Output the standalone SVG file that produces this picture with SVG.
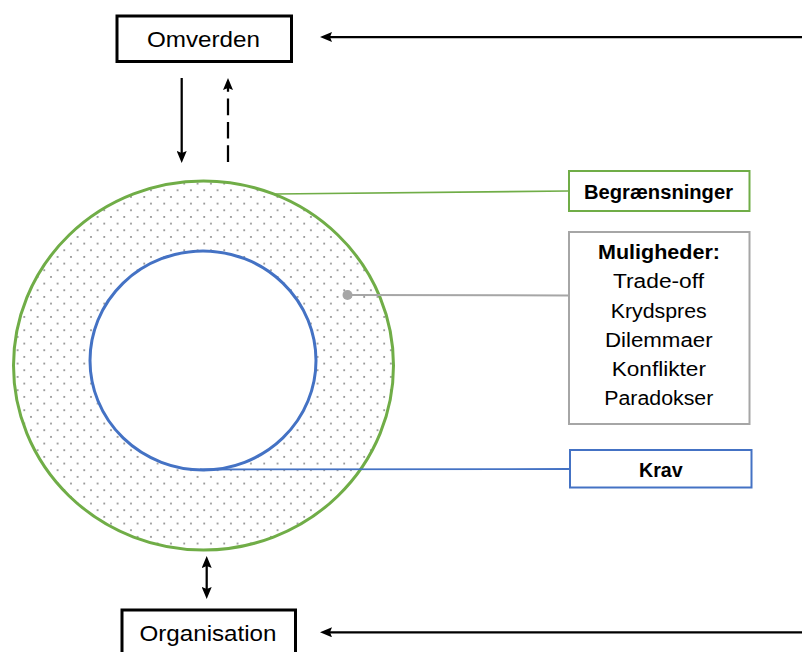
<svg xmlns="http://www.w3.org/2000/svg" width="802" height="652" viewBox="0 0 802 652">
<style>
text{font-family:"Liberation Sans",Arial,sans-serif;fill:#000;text-anchor:middle}
.lbl{font-size:21.5px}
.sm{font-size:19.5px}
.b{font-weight:bold}
.box{fill:#fff}
.conn{fill:none;stroke:#000;stroke-width:2.25}
</style>
<defs>
<pattern id="dots" patternUnits="userSpaceOnUse" width="13.33" height="13.33" x="3.3" y="2.7">
<rect width="13.33" height="13.33" fill="#fff"/>
<circle cx="1" cy="1" r="0.9" fill="#777"/>
<circle cx="7.67" cy="7.67" r="0.9" fill="#777"/>
</pattern>
<marker id="ah" viewBox="0 0 12 10" refX="6" refY="5" markerWidth="12" markerHeight="10" markerUnits="userSpaceOnUse" orient="auto-start-reverse">
<path d="M0,0 L12,5 L0,10 L2,5 z" fill="#000"/>
</marker>
</defs>

<g id="ring">
<ellipse cx="203.5" cy="365.5" rx="190" ry="184.5" fill="url(#dots)" stroke="#70AD47" stroke-width="3"/>
<ellipse cx="203" cy="360.5" rx="113" ry="109.5" fill="#fff" stroke="#4472C4" stroke-width="3"/>
</g>

<g id="connectors">
<line x1="802" y1="37" x2="326" y2="37" class="conn" marker-end="url(#ah)"/>
<line x1="802" y1="632.3" x2="326" y2="632.3" class="conn" marker-end="url(#ah)"/>
<line x1="181.7" y1="78" x2="181.7" y2="157" class="conn" marker-end="url(#ah)"/>
<line x1="228" y1="162" x2="228" y2="84" class="conn" stroke-dasharray="16.7 6.7" marker-end="url(#ah)"/>
<line x1="206.7" y1="562" x2="206.7" y2="593" class="conn" marker-start="url(#ah)" marker-end="url(#ah)"/>
<line x1="275" y1="194" x2="568" y2="191" stroke="#70AD47" stroke-width="1.6"/>
<line x1="347.5" y1="295" x2="568" y2="295.5" stroke="#A6A6A6" stroke-width="2"/>
<circle cx="347.5" cy="295" r="5" fill="#A6A6A6"/>
<line x1="200" y1="469.5" x2="570" y2="469" stroke="#4472C4" stroke-width="1.8"/>
</g>

<g id="omverden">
<rect x="117" y="16" width="174.5" height="45.5" class="box" stroke="#000" stroke-width="3"/>
<text x="203.5" y="46.5" class="lbl" textLength="113" lengthAdjust="spacingAndGlyphs">Omverden</text>
</g>

<g id="organisation">
<rect x="122" y="610" width="173.5" height="50" class="box" stroke="#000" stroke-width="3"/>
<text x="208" y="641" class="lbl" textLength="137" lengthAdjust="spacingAndGlyphs">Organisation</text>
</g>

<g id="begraensninger">
<rect x="569" y="171" width="180.5" height="40" class="box" stroke="#70AD47" stroke-width="2"/>
<text x="658.5" y="199.3" class="sm b" textLength="149" lengthAdjust="spacingAndGlyphs">Begrænsninger</text>
</g>

<g id="muligheder">
<rect x="569" y="232" width="180.5" height="192" class="box" stroke="#A6A6A6" stroke-width="2"/>
<text x="659" y="259.3" class="sm b" textLength="122" lengthAdjust="spacingAndGlyphs">Muligheder:</text>
<text x="658.5" y="288.3" class="sm" textLength="91" lengthAdjust="spacingAndGlyphs">Trade-off</text>
<text x="658.7" y="317.5" class="sm" textLength="96" lengthAdjust="spacingAndGlyphs">Krydspres</text>
<text x="658.8" y="346.7" class="sm" textLength="107.7" lengthAdjust="spacingAndGlyphs">Dilemmaer</text>
<text x="658.8" y="376" class="sm" textLength="94.3" lengthAdjust="spacingAndGlyphs">Konflikter</text>
<text x="658.8" y="405" class="sm" textLength="109" lengthAdjust="spacingAndGlyphs">Paradokser</text>
</g>

<g id="krav">
<rect x="570" y="450" width="181.5" height="37.5" class="box" stroke="#4472C4" stroke-width="2"/>
<text x="660.8" y="476.7" class="sm b" textLength="43.7" lengthAdjust="spacingAndGlyphs">Krav</text>
</g>
</svg>
